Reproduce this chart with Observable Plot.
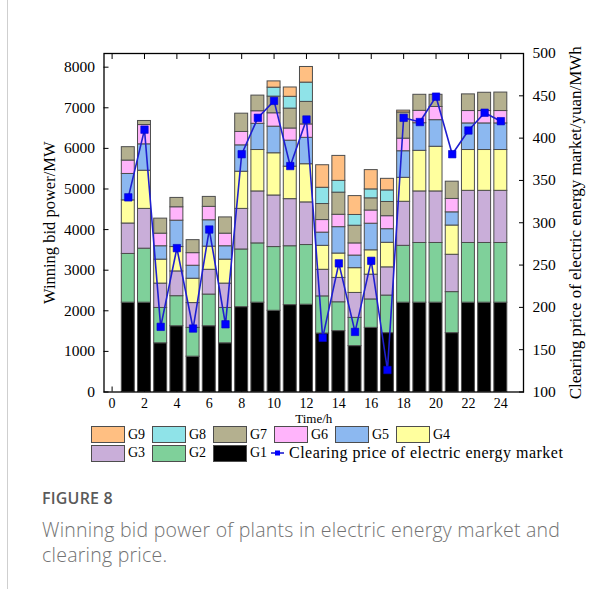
<!DOCTYPE html>
<html>
<head>
<meta charset="utf-8">
<script src="https://cdn.jsdelivr.net/npm/d3@7"></script>
<script src="https://cdn.jsdelivr.net/npm/@observablehq/plot@0.6"></script>
<style>
  html, body { margin: 0; padding: 0; background: #fff; }
  body { width: 614px; height: 589px; position: relative; overflow: hidden; font-family: "Liberation Serif", "Times New Roman", serif; }
  #rule { position: absolute; left: 7px; top: 0; height: 589px; border-left: 1px solid #cfcfcf; }
  #chart { position: absolute; left: 0; top: 0; }
  #legend { position: absolute; left: 0; top: 426px; width: 614px; height: 40px; font-size: 14px; color: #000; }
  .item { position: absolute; display: flex; align-items: center; height: 17px; }
  .sw { width: 32px; height: 15px; border: 1px solid #4d4d4d; margin-right: 3px; }
  .wide { font-size: 16px; letter-spacing: 0.48px; }
  #fig { position: absolute; left: 42px; top: 487px; font-family: "Open Sans", "Noto Sans", sans-serif; font-size: 16px; font-weight: 600; color: #5a5a5a; letter-spacing: 0.2px; }
  #cap { position: absolute; left: 42px; top: 517px; width: 570px; font-family: "Open Sans", "Noto Sans", sans-serif; font-size: 19.5px; font-weight: 300; line-height: 25px; letter-spacing: 0.25px; color: #727272; }
</style>
</head>
<body>
<div id="rule"></div>
<div id="chart"></div>
<div id="legend"></div>
<div id="fig">FIGURE 8</div>
<div id="cap">Winning bid power of plants in electric energy market and<br>clearing price.</div>
<script>
// Hours of the day
const hours = [1, 2, 3, 4, 5, 6, 7, 8, 9, 10, 11, 12, 13, 14, 15, 16, 17, 18, 19, 20, 21, 22, 23, 24];

// Generating units and their fill colours
const gens = ["G1", "G2", "G3", "G4", "G5", "G6", "G7", "G8", "G9"];
const genColors = ["#000000", "#7fd09a", "#c9aed9", "#ffff9e", "#8cb8f0", "#ffb4fb", "#b4b08f", "#8fe3e8", "#ffbf82"];

// Winning bid power of each unit, MW
const g1 = [2200, 2200, 1200, 1620, 870, 1620, 1200, 2090, 2200, 2000, 2140, 2150, 1440, 1500, 1130, 1580, 1450, 2200, 2200, 2200, 1450, 2200, 2200, 2200];
const g2 = [1200, 1330, 870, 740, 710, 780, 870, 1420, 1460, 1570, 1450, 1470, 915, 710, 695, 700, 925, 1400, 1470, 1470, 1010, 1470, 1470, 1470];
const g3 = [750, 980, 600, 610, 610, 610, 600, 1000, 1280, 1270, 1160, 1050, 655, 600, 615, 610, 695, 1085, 1270, 1270, 920, 1285, 1285, 1285];
const g4 = [570, 940, 590, 600, 600, 570, 590, 915, 1020, 1040, 800, 940, 590, 600, 610, 600, 605, 590, 1000, 1100, 720, 1005, 1005, 1005];
const g5 = [650, 650, 330, 650, 320, 650, 330, 650, 645, 655, 640, 650, 325, 650, 310, 655, 335, 655, 680, 655, 325, 655, 655, 655];
const g6 = [330, 475, 310, 330, 310, 330, 310, 330, 310, 330, 300, 330, 310, 305, 300, 325, 320, 310, 305, 325, 330, 305, 305, 305];
const g7 = [330, 100, 370, 230, 320, 245, 400, 450, 385, 410, 490, 555, 395, 545, 435, 300, 350, 645, 395, 300, 425, 410, 450, 455];
const g8 = [0, 0, 0, 0, 0, 0, 0, 0, 0, 220, 290, 475, 400, 290, 265, 220, 285, 0, 0, 0, 0, 0, 0, 0];
const g9 = [0, 0, 0, 0, 0, 0, 0, 0, 0, 155, 230, 385, 555, 615, 465, 475, 285, 45, 0, 0, 0, 0, 0, 0];

// Clearing price of the electric energy market, yuan/MWh
const price = [330, 410, 177, 270, 175, 292, 180, 381, 424, 444, 367, 422, 164, 252, 171, 255, 126, 424, 419, 449, 381, 409, 430, 420];

// Axis ticks
const xTicks = [0, 2, 4, 6, 8, 10, 12, 14, 16, 18, 20, 22, 24];
const powerTicks = [0, 1000, 2000, 3000, 4000, 5000, 6000, 7000, 8000];
const priceTicks = [100, 150, 200, 250, 300, 350, 400, 450, 500];

// Left scale extent; the right (price) axis spans 100–500 over the same frame
const powerMax = 8337;
const priceMin = 100, priceMax = 500;
const priceToPower = p => (p - priceMin) / (priceMax - priceMin) * powerMax;
const powerToPrice = v => priceMin + v / powerMax * (priceMax - priceMin);

const series = [g1, g2, g3, g4, g5, g6, g7, g8, g9];
const bars = hours.flatMap((h, i) => gens.map((g, k) => ({hour: h, gen: g, value: series[k][i]})))
  .filter(d => d.value > 0);
const prices = hours.map((h, i) => ({hour: h, price: price[i]}));

const halfBar = 0.4;
const serif = "Liberation Serif, Times New Roman, serif";

const chart = Plot.plot({
  width: 614,
  height: 425,
  marginLeft: 103.5,
  marginRight: 91,
  marginTop: 53,
  marginBottom: 33.5,
  x: {domain: [-0.5, 25.4]},
  y: {domain: [0, powerMax]},
  color: {domain: gens, range: genColors},
  style: {fontFamily: serif, fontSize: "15px", color: "#000", background: "transparent"},
  marks: [
    Plot.rectY(bars, Plot.stackY({
      x1: d => d.hour - halfBar,
      x2: d => d.hour + halfBar,
      y: "value",
      fill: "gen",
      stroke: "#4d4d4d",
      strokeWidth: 1
    })),
    Plot.line(prices, {x: "hour", y: d => priceToPower(d.price), stroke: "#1f1fd0", strokeWidth: 1.6}),
    Plot.dot(prices, {x: "hour", y: d => priceToPower(d.price), symbol: "square", r: 4.2, fill: "#0000ff", stroke: "#0000c8", strokeWidth: 0.6}),
    Plot.frame({stroke: "#000", strokeWidth: 1.3}),
    Plot.axisY({ticks: powerTicks, tickSize: -5, tickPadding: 14, fontSize: 15.5, fontFamily: serif, label: null, tickFormat: d => String(d)}),
    Plot.axisY(priceTicks.map(priceToPower), {anchor: "right", tickSize: -5, tickPadding: 14, fontSize: 15.5, fontFamily: serif, label: null, tickFormat: d => String(Math.round(powerToPrice(d)))}),
    Plot.axisX({ticks: xTicks, tickSize: -5, tickPadding: 11, fontSize: 14, fontFamily: serif, label: null, tickFormat: d => String(d)}),
    Plot.axisX({ticks: xTicks, anchor: "top", tickSize: -5, tickFormat: () => "", label: null}),
    Plot.text(["Winning bid power/MW"], {frameAnchor: "left", dx: -54, rotate: -90, textAnchor: "middle", lineAnchor: "middle", fontSize: 16.5, fontFamily: serif}),
    Plot.text(["Clearing price of electric energy market/yuan/MWh"], {frameAnchor: "right", dx: 52, rotate: -90, textAnchor: "middle", lineAnchor: "middle", fontSize: 17, fontFamily: serif}),
    Plot.text(["Time/h"], {frameAnchor: "bottom", dy: 26.5, textAnchor: "middle", lineAnchor: "middle", fontSize: 13, fontFamily: serif})
  ]
});
document.getElementById("chart").append(chart);

// Legend: G9…G4 on the first row, G3…G1 and the price line on the second
const legend = d3.select("#legend");
const order = gens.slice().reverse();
const colorOf = g => genColors[gens.indexOf(g)];
order.forEach((g, j) => {
  const row = j < 6 ? 0 : 1;
  const col = j < 6 ? j : j - 6;
  const item = legend.append("div").attr("class", "item")
    .style("left", (91 + col * 61) + "px")
    .style("top", (row * 18.5) + "px");
  item.append("div").attr("class", "sw").style("background", colorOf(g));
  item.append("span").text(g);
});
const lineItem = legend.append("div").attr("class", "item")
  .style("left", "271px").style("top", "18.5px");
const sym = lineItem.append("svg").attr("width", 13).attr("height", 10).style("margin-right", "5px");
sym.append("line").attr("x1", 0).attr("x2", 13).attr("y1", 5).attr("y2", 5).attr("stroke", "#1f1fd0").attr("stroke-width", 1.6);
sym.append("rect").attr("x", 4).attr("y", 2.5).attr("width", 5).attr("height", 5).attr("fill", "#0000ff");
lineItem.append("span").attr("class", "wide").text("Clearing price of electric energy market");
</script>
</body>
</html>
